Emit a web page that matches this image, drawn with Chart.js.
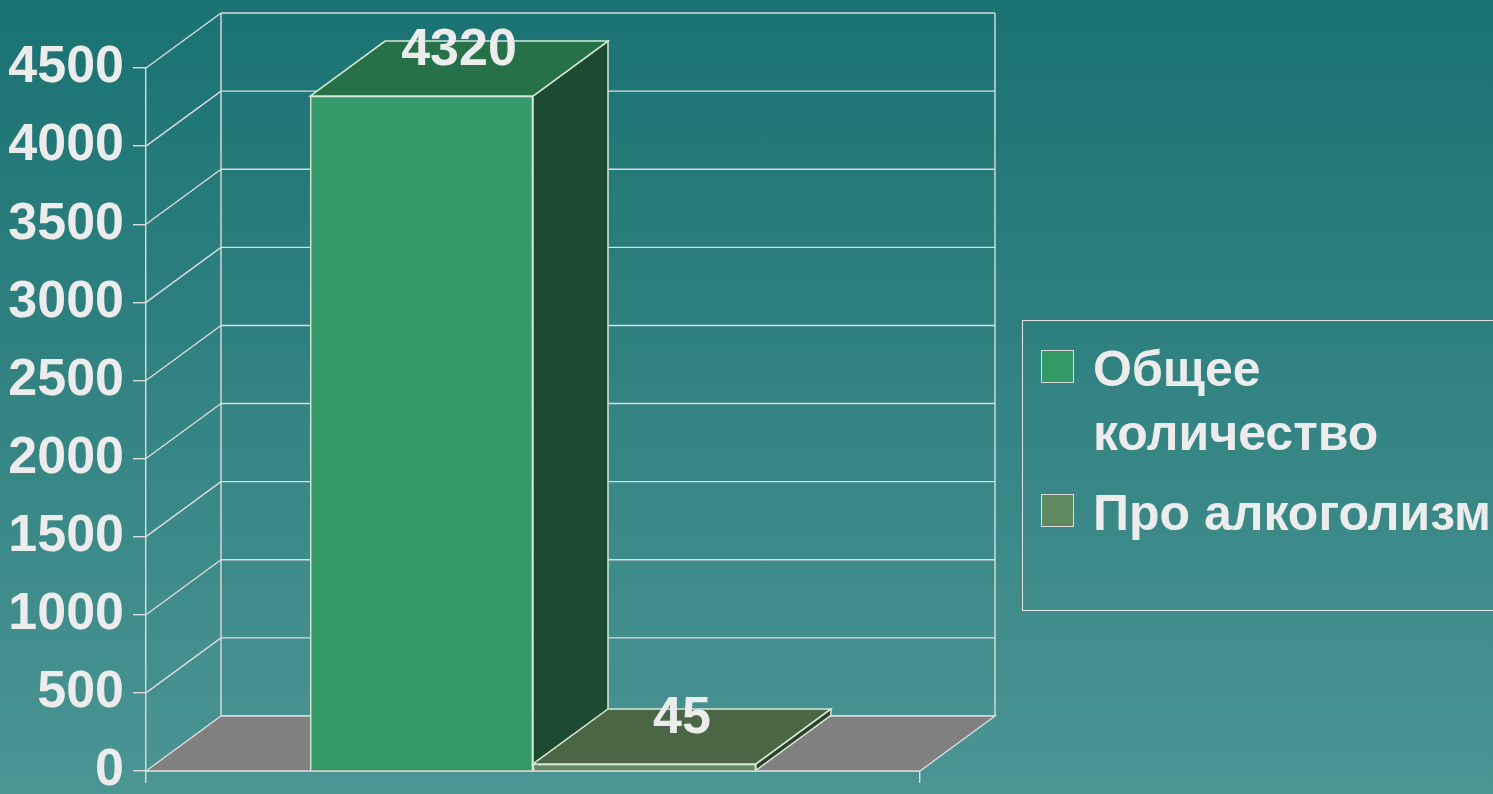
<!DOCTYPE html>
<html>
<head>
<meta charset="utf-8">
<script src="https://cdn.jsdelivr.net/npm/chart.js@4.4.1/dist/chart.umd.min.js"></script>
<style>
  html, body { margin: 0; padding: 0; width: 1493px; height: 794px; overflow: hidden; }
  body { background: linear-gradient(to bottom, #1a7272 0%, #4b9593 100%); position: relative; }
  #wrap { position: absolute; left: 0; top: 0; width: 1493px; height: 794px; }
  #legend { position: absolute; left: 1022px; top: 320px; width: 480px; height: 291px;
            border: 1.5px solid #e4e4e4; border-right: none; box-sizing: border-box; }
  .item { position: absolute; left: 0; }
  .sw { position: absolute; left: 18px; width: 33px; height: 33px; box-sizing: border-box; border: 1.5px solid #dcdcdc; }
  .tx { position: absolute; left: 70px; width: 410px; color: #ececec;
        font: bold 50px "Liberation Sans", Arial, sans-serif; line-height: 64px; }
</style>
</head>
<body>
<div id="wrap"><canvas id="c"></canvas></div>
<div id="legend"></div>
<script>
const categories = [''];
const seriesNames = ['Общее количество', 'Про алкоголизм'];
const totalValues = [4320];
const alcoholValues = [45];
const yTickValues = [0, 500, 1000, 1500, 2000, 2500, 3000, 3500, 4000, 4500];

const frontColors = ['#339966', '#5f8a5f'];
const topColors = ['#277148', '#4a6645'];
const sideColors = ['#1c4b32', '#2b4329'];
const legendColors = ['#339966', '#5f8a5f'];

const DX = 75, DY = -55;
const LINE = '#dcdcdc';
const FONT_FAMILY = '"Liberation Sans", Arial, sans-serif';
const DIGIT_FONT = 'bold 52px ' + FONT_FAMILY;

function poly(ctx, pts, fill, stroke) {
  ctx.beginPath();
  ctx.moveTo(pts[0][0], pts[0][1]);
  for (let i = 1; i < pts.length; i++) ctx.lineTo(pts[i][0], pts[i][1]);
  ctx.closePath();
  if (fill) { ctx.fillStyle = fill; ctx.fill(); }
  if (stroke) { ctx.strokeStyle = stroke; ctx.stroke(); }
}

const threeD = {
  id: 'threeD',
  beforeDatasetsDraw(chart) {
    const { ctx, chartArea: a, scales: { y } } = chart;
    ctx.save();
    ctx.lineWidth = 1.4;
    ctx.strokeStyle = LINE;
    yTickValues.forEach(v => {
      const py = y.getPixelForValue(v);
      ctx.beginPath();
      ctx.moveTo(a.left + DX, py + DY);
      ctx.lineTo(a.right + DX, py + DY);
      ctx.stroke();
      if (v > 0) {
        ctx.beginPath();
        ctx.moveTo(a.left, py);
        ctx.lineTo(a.left + DX, py + DY);
        ctx.stroke();
      }
    });
    const yTop = y.getPixelForValue(yTickValues[yTickValues.length - 1]);
    const yBot = y.getPixelForValue(0);
    ctx.beginPath();
    ctx.moveTo(a.left + DX, yTop + DY); ctx.lineTo(a.left + DX, yBot + DY);
    ctx.moveTo(a.right + DX, yTop + DY); ctx.lineTo(a.right + DX, yBot + DY);
    ctx.stroke();
    poly(ctx, [[a.left, yBot], [a.right, yBot], [a.right + DX, yBot + DY], [a.left + DX, yBot + DY]], '#808080', LINE);
    ctx.restore();
  },
  afterDatasetsDraw(chart) {
    const { ctx } = chart;
    ctx.save();
    ctx.lineWidth = 1.5;
    chart.data.datasets.forEach((ds, di) => {
      const meta = chart.getDatasetMeta(di);
      meta.data.forEach((el, i) => {
        const p = el.getProps(['x', 'y', 'base', 'width'], true);
        const l = p.x - p.width / 2, r = p.x + p.width / 2, t = p.y, b = p.base;
        poly(ctx, [[r, t], [r + DX, t + DY], [r + DX, b + DY], [r, b]], sideColors[di], '#d8e8d8');
        poly(ctx, [[l, t], [l + DX, t + DY], [r + DX, t + DY], [r, t]], topColors[di], '#d8e8d8');
        el.draw(ctx);
      });
    });
    chart.data.datasets.forEach((ds, di) => {
      const meta = chart.getDatasetMeta(di);
      meta.data.forEach((el, i) => {
        const p = el.getProps(['x', 'y'], true);
        ctx.font = DIGIT_FONT;
        ctx.fillStyle = '#ececec';
        ctx.textAlign = 'center';
        ctx.textBaseline = 'middle';
        ctx.fillText(String(ds.data[i]), p.x + DX / 2, p.y + DY / 2 - 18);
      });
    });
    ctx.restore();
  }
};

const chart = new Chart(document.getElementById('c'), {
  type: 'bar',
  data: {
    labels: categories,
    datasets: [
      { label: seriesNames[0], data: totalValues, backgroundColor: frontColors[0] },
      { label: seriesNames[1], data: alcoholValues, backgroundColor: frontColors[1] }
    ]
  },
  options: {
    responsive: true,
    maintainAspectRatio: false,
    animation: false,
    layout: { padding: { left: 0, right: 573, top: 68, bottom: 0 } },
    datasets: { bar: { categoryPercentage: 0.576, barPercentage: 1.0, borderWidth: 1.5, borderColor: '#d8e8d8' } },
    plugins: { legend: { display: false }, tooltip: { enabled: false } },
    scales: {
      x: {
        afterFit: s => { s.height = 23; s.paddingLeft = 0; s.paddingRight = 0; },
        ticks: { display: false },
        grid: { display: true, drawOnChartArea: false, drawTicks: true, tickLength: 12, color: LINE, lineWidth: 1.4 },
        border: { display: true, color: LINE, width: 1.4 }
      },
      y: {
        min: 0, max: 4500,
        afterFit: s => { s.width = 146; s.paddingTop = 0; s.paddingBottom = 0; },
        afterBuildTicks: s => { s.ticks = yTickValues.map(v => ({ value: v })); },
        ticks: {
          color: '#ececec', padding: 9,
          font: { family: FONT_FAMILY, size: 52, weight: 'bold' },
          callback: v => String(v)
        },
        grid: { display: true, drawOnChartArea: false, drawTicks: true, tickLength: 13, color: LINE, lineWidth: 1.4 },
        border: { display: true, color: LINE, width: 1.4 }
      }
    }
  },
  plugins: [threeD]
});

// legend
const lg = document.getElementById('legend');
const tops = [16, 160];
seriesNames.forEach((name, i) => {
  const item = document.createElement('div');
  item.className = 'item';
  item.style.top = tops[i] + 'px';
  const sw = document.createElement('div');
  sw.className = 'sw';
  sw.style.top = '13px';
  sw.style.background = legendColors[i];
  const tx = document.createElement('div');
  tx.className = 'tx';
  tx.style.top = '0px';
  tx.textContent = name;
  item.appendChild(sw); item.appendChild(tx);
  lg.appendChild(item);
});
</script>
</body>
</html>
